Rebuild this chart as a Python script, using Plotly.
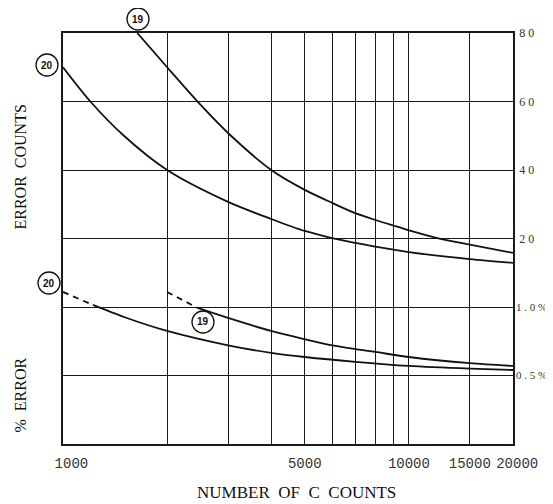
import plotly.graph_objects as go
import math

# ---------------- data ----------------
x_ticks = [1000, 2000, 3000, 4000, 5000, 6000, 7000, 8000, 9000, 10000, 15000, 20000]
x_ticktext = ["\u00a0\u00a01000", "", "", "", "5000", "", "", "", "", "10000", "15000", "\u00a020000"]

y_counts_ticks = [-20, 0, 20, 40, 60, 80]
y_counts_text = ["", "", "2 0", "4 0", "6 0", "8 0"]
y_pct_ticks = [0.5, 1.0]
y_pct_text = ["0 . 5 %", "1 . 0 %"]

# error counts, curve 19
c19_n = [1640, 2000, 2500, 3000, 4000, 5000, 6000, 7000, 8000, 9000, 10000, 12000, 15000, 20000]
c19_err = [80, 70, 59, 50.8, 40, 34.2, 30.4, 27.4, 25.4, 23.8, 22.4, 20.2, 18.2, 15.8]

# error counts, curve 20
c20_n = [1000, 1200, 1500, 2000, 3000, 4000, 5000, 6000, 7000, 8000, 10000, 15000, 20000]
c20_err = [70, 60, 50, 40, 30.7, 25.7, 22.2, 20.1, 18.7, 17.6, 16.0, 14.0, 12.9]

# % error, curve 20
p20_dash_n = [1000, 1220]
p20_dash_v = [1.11, 1.015]
p20_n = [1220, 1500, 2000, 3000, 4000, 5000, 7000, 10000, 15000, 20000]
p20_v = [1.015, 0.927, 0.825, 0.72, 0.665, 0.635, 0.6, 0.57, 0.55, 0.54]

# % error, curve 19
p19_dash_n = [2000, 2450]
p19_dash_v = [1.11, 0.993]
p19_n = [2450, 3000, 4000, 5000, 6000, 7000, 8000, 10000, 15000, 20000]
p19_v = [0.993, 0.92, 0.825, 0.765, 0.72, 0.693, 0.672, 0.635, 0.59, 0.57]

curve_labels = ["19", "20", "20", "19"]

# ---------------- layout geometry ----------------
# the page body has an 8px margin; the figure is sized so the plot lands where the reference has it
OFF = 8
W, H = 553 - OFF, 504 - OFF
L, R, T, B = 63 - OFF, 40, 33 - OFF, 60
PW, PH = W - L - R, H - T - B


def px(xp):
    return (xp - OFF - L) / PW


def py(yp):
    return (H + OFF - B - yp) / PH


INK = "#111111"
LW = 1.8
SM = 0.8

fig = go.Figure()

fig.add_trace(go.Scatter(x=c19_n, y=c19_err, mode="lines",
                         line=dict(color=INK, width=LW, shape="spline", smoothing=SM),
                         yaxis="y", showlegend=False, hoverinfo="skip"))
fig.add_trace(go.Scatter(x=c20_n, y=c20_err, mode="lines",
                         line=dict(color=INK, width=LW, shape="spline", smoothing=SM),
                         yaxis="y", showlegend=False, hoverinfo="skip"))
fig.add_trace(go.Scatter(x=p20_dash_n, y=p20_dash_v, mode="lines",
                         line=dict(color=INK, width=LW, dash="6px,5px"),
                         yaxis="y2", showlegend=False, hoverinfo="skip"))
fig.add_trace(go.Scatter(x=p20_n, y=p20_v, mode="lines",
                         line=dict(color=INK, width=LW, shape="spline", smoothing=SM),
                         yaxis="y2", showlegend=False, hoverinfo="skip"))
fig.add_trace(go.Scatter(x=p19_dash_n, y=p19_dash_v, mode="lines",
                         line=dict(color=INK, width=LW, dash="6px,5px"),
                         yaxis="y2", showlegend=False, hoverinfo="skip"))
fig.add_trace(go.Scatter(x=p19_n, y=p19_v, mode="lines",
                         line=dict(color=INK, width=LW, shape="spline", smoothing=SM),
                         yaxis="y2", showlegend=False, hoverinfo="skip"))

# circled curve labels (page pixel positions)
label_pos = [(138, 19), (47, 65), (49, 283), (203, 322)]
shapes = []
annotations = []
rad = 11
for (cx, cy), txt in zip(label_pos, curve_labels):
    shapes.append(dict(type="circle", xref="paper", yref="paper",
                       x0=px(cx - rad), x1=px(cx + rad), y0=py(cy + rad), y1=py(cy - rad),
                       line=dict(color=INK, width=1.3), fillcolor="white", layer="above"))
    annotations.append(dict(text="<b>" + txt + "</b>", x=px(cx), y=py(cy), xref="paper", yref="paper",
                            showarrow=False, xanchor="center", yanchor="middle",
                            font=dict(family="Liberation Sans Narrow, Liberation Sans, Arial", size=10, color=INK)))

serif = "Liberation Serif, Times New Roman, serif"
annotations.append(dict(text="ERROR  COUNTS", x=px(9), y=py(167), xref="paper", yref="paper",
                        textangle=-90, showarrow=False, xanchor="left", yanchor="middle",
                        font=dict(family=serif, size=16, color=INK)))
annotations.append(dict(text="%  ERROR", x=px(9), y=py(395), xref="paper", yref="paper",
                        textangle=-90, showarrow=False, xanchor="left", yanchor="middle",
                        font=dict(family=serif, size=16, color=INK)))
annotations.append(dict(text="NUMBER  OF  C  COUNTS", x=px(296), y=py(492), xref="paper", yref="paper",
                        showarrow=False, xanchor="center", yanchor="middle",
                        font=dict(family=serif, size=17, color=INK)))

fig.update_layout(
    width=W, height=H,
    margin=dict(l=L, r=R, t=T, b=B, autoexpand=False),
    paper_bgcolor="white", plot_bgcolor="white",
    shapes=shapes, annotations=annotations,
    xaxis=dict(type="log", range=[3, math.log10(20000)], tickvals=x_ticks, ticktext=x_ticktext,
               showgrid=True, gridcolor="#1a1a1a", gridwidth=1, zeroline=False,
               showline=True, linecolor="#1a1a1a", linewidth=1.5, mirror=True,
               ticks="", ticklabelstandoff=5, tickangle=0, automargin=False,
               tickfont=dict(family="Liberation Mono, monospace", size=14, color="#333333")),
    yaxis=dict(range=[-40, 80], tickvals=y_counts_ticks, ticktext=y_counts_text, side="right",
               showgrid=True, gridcolor="#1a1a1a", gridwidth=1, zeroline=False,
               showline=True, linecolor="#1a1a1a", linewidth=1.5, mirror=True,
               ticks="", ticklabelstandoff=2, automargin=False,
               tickfont=dict(family=serif, size=12, color="#333333")),
    yaxis2=dict(range=[0, 3], tickvals=y_pct_ticks, ticktext=y_pct_text, side="right",
                overlaying="y", showgrid=False, zeroline=False, showline=False,
                ticks="", ticklabelstandoff=2, automargin=False,
                tickfont=dict(family=serif, size=11, color="#333333")),
)

fig.write_html("out.html")
